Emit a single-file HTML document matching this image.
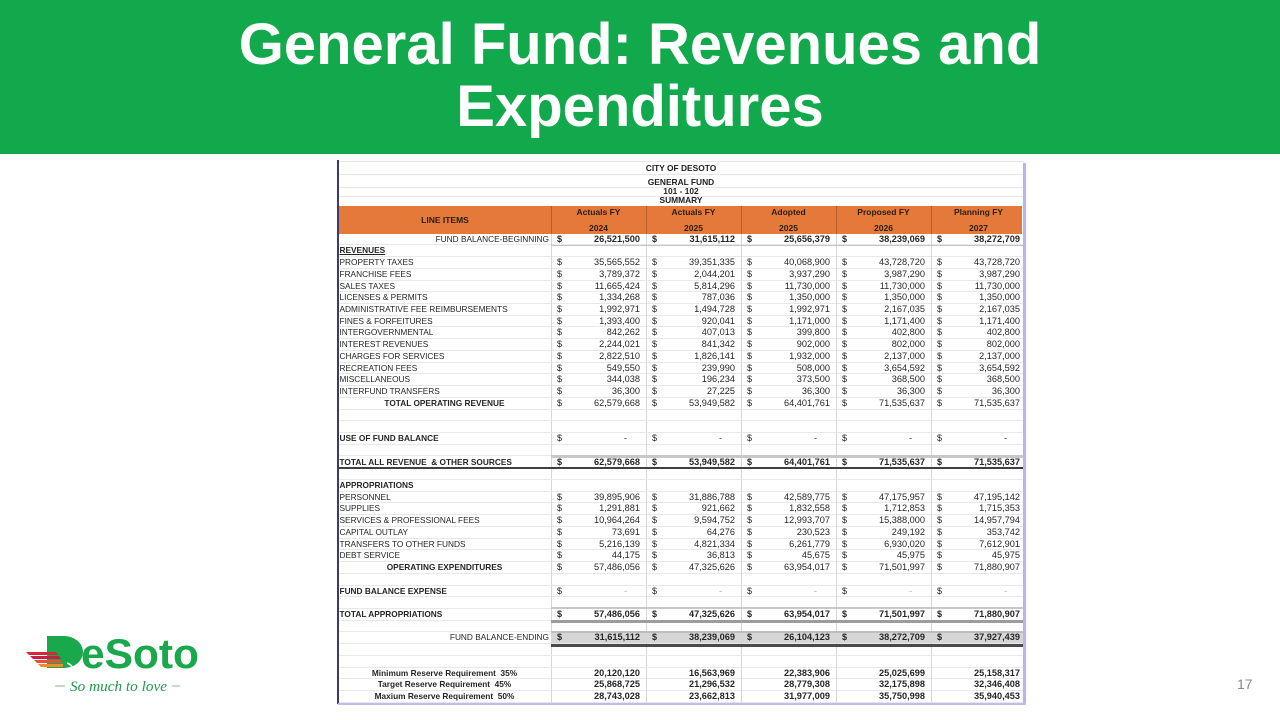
<!DOCTYPE html>
<html><head><meta charset="utf-8">
<style>
*{margin:0;padding:0;box-sizing:border-box}
body{width:1280px;height:720px;background:#fff;position:relative;overflow:hidden;font-family:"Liberation Sans",Arial,sans-serif;color:#262626}
.band{position:absolute;left:0;top:0;width:1280px;height:154px;background:#11a94b}
.title{position:absolute;left:0;top:14px;width:1280px;text-align:center;color:#fff;font-weight:bold;font-size:58px;line-height:62px}
.row{position:absolute;left:338px;width:686px;height:11.73px;display:grid;grid-template-columns:213px 95px 95px 95px 95px 93px;border-bottom:1px solid #e8e8e8;line-height:11.5px}
.row>div{position:relative;height:100%}
.row>div+div{border-left:1px solid #d6d6d6}
.l{font-size:8.3px;padding-left:1.5px;white-space:nowrap}
.row i{font-style:normal;position:absolute;left:5px;font-size:9px}
.row span{position:absolute;right:6px;font-size:9.2px;white-space:nowrap}
.row>div:last-child span{right:4px}
.row span.z{right:19px}
.row>div:last-child span.z{right:17px}
.b{font-weight:bold}
.c .l{text-align:center;padding-left:0}
.r .l{text-align:right;padding-right:2px}
.u .l{text-decoration:underline}
.hdr{position:absolute;left:339px;top:206px;width:683px;height:27.6px;background:#e4793a;font-weight:bold;font-size:8.5px;color:#2a2018}
.hdr .vl{position:absolute;top:0;width:1px;height:100%;background:#b4602c}
.hdr .t{position:absolute;text-align:center;width:95px;line-height:10px}
.tt{position:absolute;left:338px;width:686px;text-align:center;font-weight:bold;font-size:8.4px;line-height:10px;color:#222}
.hl{position:absolute;left:338px;width:686px;height:1px;background:#e6e6e6}
</style></head><body>
<div class="band"></div>
<div class="title">General Fund: Revenues and<br>Expenditures</div>

<!-- table frame -->
<div class="hl" style="top:161px"></div>
<div class="hl" style="top:174px"></div>
<div class="hl" style="top:187px"></div>
<div class="hl" style="top:196px"></div>
<div class="tt" style="top:163px">CITY OF DESOTO</div>
<div class="tt" style="top:177px">GENERAL FUND</div>
<div class="tt" style="top:186px">101 - 102</div>
<div class="tt" style="top:195px">SUMMARY</div>

<div class="hdr">
  <div class="vl" style="left:212px"></div>
  <div class="vl" style="left:307px"></div>
  <div class="vl" style="left:402px"></div>
  <div class="vl" style="left:497px"></div>
  <div class="vl" style="left:592px"></div>
  <div class="t" style="left:0;width:212px;top:9px">LINE ITEMS</div>
  <div class="t" style="left:212px;top:1px">Actuals FY</div>
  <div class="t" style="left:212px;top:17px">2024</div>
  <div class="t" style="left:307px;top:1px">Actuals FY</div>
  <div class="t" style="left:307px;top:17px">2025</div>
  <div class="t" style="left:402px;top:1px">Adopted</div>
  <div class="t" style="left:402px;top:17px">2025</div>
  <div class="t" style="left:497px;top:1px">Proposed FY</div>
  <div class="t" style="left:497px;top:17px">2026</div>
  <div class="t" style="left:592px;top:1px">Planning FY</div>
  <div class="t" style="left:592px;top:17px">2027</div>
</div>

<!-- fills -->
<div style="position:absolute;left:551px;top:632px;width:473px;height:12px;background:#d6d6d6"></div>

<div class="row r" style="top:233.6px"><div class="l">FUND BALANCE-BEGINNING</div><div class="b"><i>$</i><span>26,521,500</span></div><div class="b"><i>$</i><span>31,615,112</span></div><div class="b"><i>$</i><span>25,656,379</span></div><div class="b"><i>$</i><span>38,239,069</span></div><div class="b"><i>$</i><span>38,272,709</span></div></div>
<div class="row b u" style="top:245.3px"><div class="l">REVENUES</div><div></div><div></div><div></div><div></div><div></div></div>
<div class="row" style="top:257.1px"><div class="l">PROPERTY TAXES</div><div><i>$</i><span>35,565,552</span></div><div><i>$</i><span>39,351,335</span></div><div><i>$</i><span>40,068,900</span></div><div><i>$</i><span>43,728,720</span></div><div><i>$</i><span>43,728,720</span></div></div>
<div class="row" style="top:268.8px"><div class="l">FRANCHISE FEES</div><div><i>$</i><span>3,789,372</span></div><div><i>$</i><span>2,044,201</span></div><div><i>$</i><span>3,937,290</span></div><div><i>$</i><span>3,987,290</span></div><div><i>$</i><span>3,987,290</span></div></div>
<div class="row" style="top:280.5px"><div class="l">SALES TAXES</div><div><i>$</i><span>11,665,424</span></div><div><i>$</i><span>5,814,296</span></div><div><i>$</i><span>11,730,000</span></div><div><i>$</i><span>11,730,000</span></div><div><i>$</i><span>11,730,000</span></div></div>
<div class="row" style="top:292.3px"><div class="l">LICENSES &amp; PERMITS</div><div><i>$</i><span>1,334,268</span></div><div><i>$</i><span>787,036</span></div><div><i>$</i><span>1,350,000</span></div><div><i>$</i><span>1,350,000</span></div><div><i>$</i><span>1,350,000</span></div></div>
<div class="row" style="top:304.0px"><div class="l">ADMINISTRATIVE FEE REIMBURSEMENTS</div><div><i>$</i><span>1,992,971</span></div><div><i>$</i><span>1,494,728</span></div><div><i>$</i><span>1,992,971</span></div><div><i>$</i><span>2,167,035</span></div><div><i>$</i><span>2,167,035</span></div></div>
<div class="row" style="top:315.7px"><div class="l">FINES &amp; FORFEITURES</div><div><i>$</i><span>1,393,400</span></div><div><i>$</i><span>920,041</span></div><div><i>$</i><span>1,171,000</span></div><div><i>$</i><span>1,171,400</span></div><div><i>$</i><span>1,171,400</span></div></div>
<div class="row" style="top:327.4px"><div class="l">INTERGOVERNMENTAL</div><div><i>$</i><span>842,262</span></div><div><i>$</i><span>407,013</span></div><div><i>$</i><span>399,800</span></div><div><i>$</i><span>402,800</span></div><div><i>$</i><span>402,800</span></div></div>
<div class="row" style="top:339.2px"><div class="l">INTEREST REVENUES</div><div><i>$</i><span>2,244,021</span></div><div><i>$</i><span>841,342</span></div><div><i>$</i><span>902,000</span></div><div><i>$</i><span>802,000</span></div><div><i>$</i><span>802,000</span></div></div>
<div class="row" style="top:350.9px"><div class="l">CHARGES FOR SERVICES</div><div><i>$</i><span>2,822,510</span></div><div><i>$</i><span>1,826,141</span></div><div><i>$</i><span>1,932,000</span></div><div><i>$</i><span>2,137,000</span></div><div><i>$</i><span>2,137,000</span></div></div>
<div class="row" style="top:362.6px"><div class="l">RECREATION FEES</div><div><i>$</i><span>549,550</span></div><div><i>$</i><span>239,990</span></div><div><i>$</i><span>508,000</span></div><div><i>$</i><span>3,654,592</span></div><div><i>$</i><span>3,654,592</span></div></div>
<div class="row" style="top:374.4px"><div class="l">MISCELLANEOUS</div><div><i>$</i><span>344,038</span></div><div><i>$</i><span>196,234</span></div><div><i>$</i><span>373,500</span></div><div><i>$</i><span>368,500</span></div><div><i>$</i><span>368,500</span></div></div>
<div class="row" style="top:386.1px"><div class="l">INTERFUND TRANSFERS</div><div><i>$</i><span>36,300</span></div><div><i>$</i><span>27,225</span></div><div><i>$</i><span>36,300</span></div><div><i>$</i><span>36,300</span></div><div><i>$</i><span>36,300</span></div></div>
<div class="row c" style="top:397.8px"><div class="l b">TOTAL OPERATING REVENUE</div><div><i>$</i><span>62,579,668</span></div><div><i>$</i><span>53,949,582</span></div><div><i>$</i><span>64,401,761</span></div><div><i>$</i><span>71,535,637</span></div><div><i>$</i><span>71,535,637</span></div></div>
<div class="row" style="top:409.6px"><div class="l"></div><div></div><div></div><div></div><div></div><div></div></div>
<div class="row" style="top:421.3px"><div class="l"></div><div></div><div></div><div></div><div></div><div></div></div>
<div class="row" style="top:433.0px"><div class="l b">USE OF FUND BALANCE</div><div><i>$</i><span class="z">-</span></div><div><i>$</i><span class="z">-</span></div><div><i>$</i><span class="z">-</span></div><div><i>$</i><span class="z">-</span></div><div><i>$</i><span class="z">-</span></div></div>
<div class="row" style="top:444.7px"><div class="l"></div><div></div><div></div><div></div><div></div><div></div></div>
<div class="row b" style="top:456.5px"><div class="l">TOTAL ALL REVENUE &nbsp;&amp; OTHER SOURCES</div><div><i>$</i><span>62,579,668</span></div><div><i>$</i><span>53,949,582</span></div><div><i>$</i><span>64,401,761</span></div><div><i>$</i><span>71,535,637</span></div><div><i>$</i><span>71,535,637</span></div></div>
<div class="row" style="top:468.2px"><div class="l"></div><div></div><div></div><div></div><div></div><div></div></div>
<div class="row b" style="top:479.9px"><div class="l">APPROPRIATIONS</div><div></div><div></div><div></div><div></div><div></div></div>
<div class="row" style="top:491.7px"><div class="l">PERSONNEL</div><div><i>$</i><span>39,895,906</span></div><div><i>$</i><span>31,886,788</span></div><div><i>$</i><span>42,589,775</span></div><div><i>$</i><span>47,175,957</span></div><div><i>$</i><span>47,195,142</span></div></div>
<div class="row" style="top:503.4px"><div class="l">SUPPLIES</div><div><i>$</i><span>1,291,881</span></div><div><i>$</i><span>921,662</span></div><div><i>$</i><span>1,832,558</span></div><div><i>$</i><span>1,712,853</span></div><div><i>$</i><span>1,715,353</span></div></div>
<div class="row" style="top:515.1px"><div class="l">SERVICES &amp; PROFESSIONAL FEES</div><div><i>$</i><span>10,964,264</span></div><div><i>$</i><span>9,594,752</span></div><div><i>$</i><span>12,993,707</span></div><div><i>$</i><span>15,388,000</span></div><div><i>$</i><span>14,957,794</span></div></div>
<div class="row" style="top:526.9px"><div class="l">CAPITAL OUTLAY</div><div><i>$</i><span>73,691</span></div><div><i>$</i><span>64,276</span></div><div><i>$</i><span>230,523</span></div><div><i>$</i><span>249,192</span></div><div><i>$</i><span>353,742</span></div></div>
<div class="row" style="top:538.6px"><div class="l">TRANSFERS TO OTHER FUNDS</div><div><i>$</i><span>5,216,139</span></div><div><i>$</i><span>4,821,334</span></div><div><i>$</i><span>6,261,779</span></div><div><i>$</i><span>6,930,020</span></div><div><i>$</i><span>7,612,901</span></div></div>
<div class="row" style="top:550.3px"><div class="l">DEBT SERVICE</div><div><i>$</i><span>44,175</span></div><div><i>$</i><span>36,813</span></div><div><i>$</i><span>45,675</span></div><div><i>$</i><span>45,975</span></div><div><i>$</i><span>45,975</span></div></div>
<div class="row c" style="top:562.0px"><div class="l b">OPERATING EXPENDITURES</div><div><i>$</i><span>57,486,056</span></div><div><i>$</i><span>47,325,626</span></div><div><i>$</i><span>63,954,017</span></div><div><i>$</i><span>71,501,997</span></div><div><i>$</i><span>71,880,907</span></div></div>
<div class="row" style="top:573.8px"><div class="l"></div><div></div><div></div><div></div><div></div><div></div></div>
<div class="row" style="top:585.5px"><div class="l b">FUND BALANCE EXPENSE</div><div><i>$</i><span class="z" style="color:#aaa">-</span></div><div><i>$</i><span class="z" style="color:#aaa">-</span></div><div><i>$</i><span class="z" style="color:#aaa">-</span></div><div><i>$</i><span class="z" style="color:#aaa">-</span></div><div><i>$</i><span class="z" style="color:#aaa">-</span></div></div>
<div class="row" style="top:597.2px"><div class="l"></div><div></div><div></div><div></div><div></div><div></div></div>
<div class="row b" style="top:609.0px"><div class="l">TOTAL APPROPRIATIONS</div><div><i>$</i><span>57,486,056</span></div><div><i>$</i><span>47,325,626</span></div><div><i>$</i><span>63,954,017</span></div><div><i>$</i><span>71,501,997</span></div><div><i>$</i><span>71,880,907</span></div></div>
<div class="row" style="top:620.7px"><div class="l"></div><div></div><div></div><div></div><div></div><div></div></div>
<div class="row r" style="top:632.4px"><div class="l">FUND BALANCE-ENDING</div><div class="b"><i>$</i><span>31,615,112</span></div><div class="b"><i>$</i><span>38,239,069</span></div><div class="b"><i>$</i><span>26,104,123</span></div><div class="b"><i>$</i><span>38,272,709</span></div><div class="b"><i>$</i><span>37,927,439</span></div></div>
<div class="row" style="top:644.2px"><div class="l"></div><div></div><div></div><div></div><div></div><div></div></div>
<div class="row" style="top:655.9px"><div class="l"></div><div></div><div></div><div></div><div></div><div></div></div>
<div class="row c b" style="top:667.6px"><div class="l">Minimum Reserve Requirement &nbsp;35%</div><div><span>20,120,120</span></div><div><span>16,563,969</span></div><div><span>22,383,906</span></div><div><span>25,025,699</span></div><div><span>25,158,317</span></div></div>
<div class="row c b" style="top:679.3px"><div class="l">Target Reserve Requirement &nbsp;45%</div><div><span>25,868,725</span></div><div><span>21,296,532</span></div><div><span>28,779,308</span></div><div><span>32,175,898</span></div><div><span>32,346,408</span></div></div>
<div class="row c b" style="top:691.1px"><div class="l">Maxium Reserve Requirement &nbsp;50%</div><div><span>28,743,028</span></div><div><span>23,662,813</span></div><div><span>31,977,009</span></div><div><span>35,750,998</span></div><div><span>35,940,453</span></div></div>

<!-- special lines -->
<div style="position:absolute;left:551px;top:244.5px;width:473px;height:1.5px;background:#c4c4c4"></div>
<div style="position:absolute;left:551px;top:454.5px;width:473px;height:3px;background:#c8c8c8"></div>
<div style="position:absolute;left:338px;top:467px;width:686px;height:2px;background:#404040"></div>
<div style="position:absolute;left:551px;top:607px;width:473px;height:2px;background:#c8c8c8"></div>
<div style="position:absolute;left:551px;top:620px;width:473px;height:3px;background:#9c9c9c"></div>
<div style="position:absolute;left:551px;top:631px;width:473px;height:1.5px;background:#bdbdbd"></div>
<div style="position:absolute;left:551px;top:643.5px;width:473px;height:3px;background:#4a4a4a"></div>

<!-- borders -->
<div style="position:absolute;left:337px;top:160px;width:1.5px;height:544px;background:#3c3c6c"></div>
<div style="position:absolute;left:1023px;top:163px;width:3px;height:542px;background:#bab1ef"></div>
<div style="position:absolute;left:338px;top:702.5px;width:688px;height:2px;background:#c3bbf0"></div>

<!-- logo -->
<svg width="190" height="75" style="position:absolute;left:20px;top:625px" xmlns="http://www.w3.org/2000/svg">
  <path d="M27,11 H44 A19,16 0 0 1 44,43 H27 Z" fill="#19a84b"/>
  <path d="M47,38 C52,40 55,44 50,46 C47,47 46,44 48,43" fill="none" stroke="#fff" stroke-width="1.5"/>
  <polygon points="6,27 36,27 38,30 9,30" fill="#d7263c"/>
  <polygon points="10,31 39,31 41,34 13,34" fill="#c81f45"/>
  <polygon points="14,35 41,35 42,38 17,38" fill="#e0533a"/>
  <polygon points="18,39 43,39 43,42 21,42" fill="#f08a2a"/>
  <text x="61" y="43" font-family="Liberation Sans, Arial, sans-serif" font-weight="bold" font-size="42" fill="#19a84b" textLength="118" lengthAdjust="spacingAndGlyphs">eSoto</text>
  <line x1="35" y1="61" x2="45" y2="61" stroke="#9fc0a4" stroke-width="1.2"/>
  <text x="50" y="66" font-family="Liberation Serif, serif" font-style="italic" font-size="15" fill="#1f9a4a" textLength="97" lengthAdjust="spacingAndGlyphs">So much to love</text>
  <line x1="152" y1="61" x2="160" y2="61" stroke="#9fc0a4" stroke-width="1.2"/>
</svg>

<div style="position:absolute;left:1237px;top:676px;font-size:14px;color:#8a8a8a">17</div>
</body></html>
